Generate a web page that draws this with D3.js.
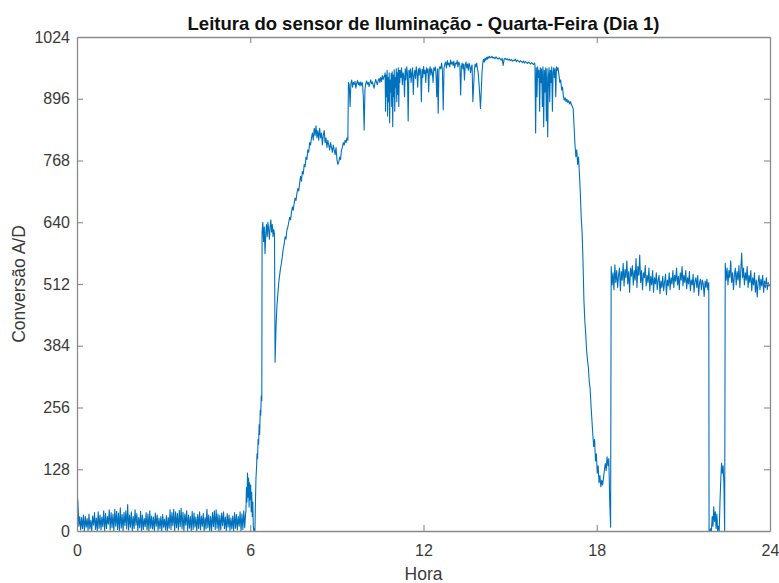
<!DOCTYPE html>
<html>
<head>
<meta charset="utf-8">
<script src="https://cdn.jsdelivr.net/npm/d3@7"></script>
<style>
  html, body { margin: 0; padding: 0; background: #fff; }
  svg { display: block; }
  text { font-family: "Liberation Sans", Arial, Helvetica, sans-serif; }
</style>
</head>
<body>
<svg id="chart" width="779" height="583"></svg>
<script>
// ---------------- DATA ----------------
const titleText = "Leitura do sensor de Iluminação - Quarta-Feira (Dia 1)";
const xLabelText = "Hora";
const yLabelText = "Conversão A/D";
const xTicks = [0, 6, 12, 18, 24];
const yTicks = [0, 128, 256, 384, 512, 640, 768, 896, 1024];

// Readings, grouped in time spans [startHour, endHour] (samples evenly spaced inside each span)
const nightVals = [80, 60, 10, 30, 2, 28, 5, 33, 0, 30, 8, 26, 1, 35, 4, 22, 0, 31, 12, 38, 3, 27, 0, 40, 6, 33, 2, 29, 9, 42, 0, 36, 5, 30, 14, 44, 2, 38, 7, 35, 0, 45, 10, 41, 3, 37, 1, 48, 6, 34, 0, 39, 11, 42, 4, 55, 2, 33, 8, 40, 0, 30, 5, 44, 12, 36, 1, 28, 7, 41, 0, 33, 3, 26, 9, 38, 2, 35, 0, 42, 6, 31, 4, 29, 0, 37, 10, 33, 1, 27, 5, 30, 0, 34, 8, 25, 2, 32, 0, 28, 6, 44, 3, 38, 11, 45, 0, 40, 7, 36, 2, 43, 9, 47, 4, 39, 0, 35, 12, 42, 1, 33, 6, 30, 0, 41, 3, 37, 8, 29, 0, 34, 5, 40, 2, 31, 10, 36, 0, 28, 4, 45, 7, 33, 1, 30, 0, 38, 9, 42, 3, 44, 6, 35, 0, 32, 2, 37, 11, 40, 5, 29, 0, 36, 8, 33, 1, 27, 4, 31, 0, 38, 6, 34, 2, 30, 10, 40, 0, 35, 3, 42, 7, 37];
const dawnVals = [40, 90, 60, 120, 70, 110, 50, 100, 65, 95, 40, 80, 30, 60, 10, 0, 5, 0, 60, 110, 130, 160, 150, 190, 180, 220, 200, 250, 240, 280, 270];
const morningVals = [620, 640, 600, 630, 575, 615, 635, 610, 640, 625, 605, 630, 645, 620, 635, 610, 625, 615];
const riseVals = [350, 420, 465, 490, 514, 530, 545, 555, 570, 585, 595, 610, 605, 624, 630, 640, 650, 645, 660, 672, 665, 680, 690, 685, 700, 710, 705, 720, 735, 725, 745, 740, 760, 755, 775, 770, 790, 785, 805, 800, 815, 825, 810, 835, 820, 840, 815, 830, 810, 835, 815, 825, 800, 820, 830, 805, 815, 795, 810, 800, 790, 805, 795, 785, 800, 790, 780, 795, 770, 760, 765, 775, 770, 790, 795, 805, 800, 810, 805, 815, 810];
const day1Vals = [930, 925, 880, 928, 935, 920, 930, 926, 932, 918, 928, 934, 925, 930, 922, 931, 924, 929, 900, 831, 915, 928, 933, 926, 930, 921, 929, 935, 927, 931, 924, 918, 929, 936, 930, 925, 934, 938, 930, 940, 932, 944, 936, 942, 945];
const day2Vals = [950, 870, 945, 900, 955, 860, 940, 890, 950, 846, 935, 910, 948, 880, 952, 838, 945, 900, 956, 870, 940, 920, 958, 890, 950, 905, 960, 880, 955, 930];
const day3Vals = [955, 940, 960, 925, 950, 945, 900, 958, 935, 962, 948, 850, 955, 940, 958, 930, 950, 960, 905, 945, 955, 938, 962, 950, 920, 958, 945, 960, 952, 890, 957, 940, 963, 948, 955, 930, 960, 950, 958, 910, 955, 962, 945, 958, 950, 930, 960, 955, 962, 948, 900, 958, 866, 955, 962];
const day4Vals = [962, 958, 970, 955, 873, 960, 968, 972, 960, 975, 966, 970, 962, 976, 968, 972, 965, 974, 960, 970, 968, 975, 962, 972, 968];
const day5Vals = [965, 904, 962, 970, 958, 968, 935, 966, 972, 960, 968, 955, 970, 964, 950, 962, 966, 890, 920, 955, 968, 962, 970, 958, 950, 930, 905, 876, 910, 950, 970, 978, 972, 980, 976, 982, 978, 983, 980, 984];
const day6Vals = [983, 981, 984, 980, 982, 979, 983, 980, 978, 981, 979, 976, 980, 965, 978, 980, 977, 979, 976, 978, 975, 977, 974, 976, 975, 978, 973, 976, 974, 972, 975, 973, 971, 974, 970, 973, 971, 969, 972, 970, 968, 971, 969, 967, 970];
const day7Vals = [965, 825, 960, 900, 962, 940, 955, 870, 960, 930, 958, 880, 962, 838, 955, 910, 960, 850, 958, 817, 940, 960, 890, 955, 930, 962, 870, 950, 960, 940, 958, 900, 962, 955, 960];
const sunsetVals = [960, 945, 930, 935, 914, 920, 900, 893, 898, 890, 895, 888, 892, 885, 890, 884, 880, 875, 838, 800, 776, 790, 760, 775, 740, 700, 650, 620, 560, 480, 437, 410, 375, 355, 340, 310, 295, 260, 230, 200, 175, 190, 145, 160, 120, 135, 100, 115, 92, 105, 95, 110, 126, 140, 125, 154, 135, 150, 60, 8];
const eveningVals = [548, 510, 535, 500, 552, 515, 540, 505, 530, 545, 498, 538, 520, 555, 508, 542, 525, 560, 512, 538, 495, 545, 528, 550, 510, 540, 520, 565, 505, 548, 530, 572, 515, 540, 500, 535, 525, 550, 508, 530, 515, 545, 498, 528, 510, 540, 495, 525, 512, 535, 500, 520, 530, 492, 518, 505, 528, 498, 515, 532, 490, 520, 508, 535, 500, 525, 512, 540, 505, 530, 518, 545, 510, 528, 500, 535, 520, 548, 508, 530, 515, 540, 502, 525, 512, 538, 498, 520, 510, 532, 495, 518, 525, 505, 530, 488, 515, 522, 500, 520, 512, 486, 518, 505, 522, 500, 515];
const gapVals = [0, 0, 5, 0, 30, 10, 50, 20, 40, 5, 35, 0, 10, 0, 60, 106, 141, 120, 135, 100, 0];
const lateVals = [555, 520, 545, 510, 540, 525, 560, 515, 535, 500, 530, 545, 510, 538, 520, 550, 505, 540, 576, 525, 545, 510, 535, 520, 548, 505, 530, 515, 540, 498, 525, 510, 535, 495, 520, 485, 515, 530, 500, 522, 508, 530, 495, 518, 505, 525, 500, 515, 508, 512];

const segmentSpans = [
  [0.00, 5.84], [5.85, 6.40], [6.41, 6.84], [6.86, 9.38],
  [9.40, 10.66], [10.67, 11.18], [11.19, 12.56], [12.57, 13.25],
  [13.26, 14.29], [14.30, 15.85], [15.86, 16.65], [16.66, 18.48],
  [18.50, 21.88], [21.89, 22.43], [22.45, 24.00]
];
const segmentValues = [nightVals, dawnVals, morningVals, riseVals, day1Vals, day2Vals, day3Vals, day4Vals, day5Vals, day6Vals, day7Vals, sunsetVals, eveningVals, gapVals, lateVals];

(function draw() {
  // ---------------- BUILD SERIES ----------------
  const series = [];
  segmentValues.forEach((vals, s) => {
    const [t0, t1] = segmentSpans[s];
    const n = vals.length;
    vals.forEach((v, i) => {
      series.push({ h: n > 1 ? t0 + (t1 - t0) * i / (n - 1) : t0, v });
    });
  });

  // ---------------- LAYOUT ----------------
  const W = 779, H = 583;
  const mL = 77, mR = 770, mT = 37, mB = 531;
  const axisColor = "#8a8a8a";
  const textColor = "#3a3a3a";
  const lineColor = "#0072BD";
  const tickLen = 6;

  const svg = d3.select("#chart");
  svg.append("rect").attr("width", W).attr("height", H).attr("fill", "#fff");

  const x = d3.scaleLinear().domain([0, 24]).range([mL, mR]);
  const y = d3.scaleLinear().domain([0, 1024]).range([mB, mT]);

  svg.append("clipPath").attr("id", "clip")
    .append("rect").attr("x", mL).attr("y", mT - 1).attr("width", mR - mL).attr("height", mB - mT + 1);

  const line = d3.line().x(d => x(d.h)).y(d => y(d.v));
  svg.append("path")
    .datum(series)
    .attr("clip-path", "url(#clip)")
    .attr("fill", "none")
    .attr("stroke", lineColor)
    .attr("stroke-width", 1.1)
    .attr("stroke-linejoin", "round")
    .attr("d", line);

  const fmt = d3.format("d");
  const axB = d3.axisBottom(x).tickValues(xTicks).tickFormat(fmt).tickSizeInner(-tickLen).tickSizeOuter(0).tickPadding(14);
  const axT = d3.axisTop(x).tickValues(xTicks).tickSizeInner(-tickLen).tickSizeOuter(0).tickFormat("");
  const axL = d3.axisLeft(y).tickValues(yTicks).tickFormat(fmt).tickSizeInner(-tickLen).tickSizeOuter(0).tickPadding(7);
  const axR = d3.axisRight(y).tickValues(yTicks).tickSizeInner(-tickLen).tickSizeOuter(0).tickFormat("");

  function style(g) {
    g.select(".domain").attr("stroke", axisColor).attr("stroke-width", 1.3);
    g.selectAll(".tick line").attr("stroke", axisColor).attr("stroke-width", 1.1);
    g.selectAll(".tick text").attr("fill", textColor).style("font-size", "16px")
      .style("font-family", '"Liberation Sans", Arial, sans-serif');
  }
  svg.append("g").attr("transform", `translate(0,${mB})`).call(axB).call(style);
  svg.append("g").attr("transform", `translate(0,${mT})`).call(axT).call(style);
  svg.append("g").attr("transform", `translate(${mL},0)`).call(axL).call(style);
  svg.append("g").attr("transform", `translate(${mR},0)`).call(axR).call(style);

  svg.selectAll(".tick line").filter(d => d === 0 || d === 24 || d === 1024).remove();

  svg.append("text")
    .attr("x", (mL + mR) / 2).attr("y", 29.5)
    .attr("text-anchor", "middle")
    .attr("fill", "#111")
    .style("font-size", "18.5px").style("font-weight", "bold")
    .text(titleText);

  svg.append("text")
    .attr("x", (mL + mR) / 2).attr("y", 580)
    .attr("text-anchor", "middle")
    .attr("fill", textColor)
    .style("font-size", "17.5px")
    .text(xLabelText);

  svg.append("text")
    .attr("transform", `translate(25,${(mT + mB) / 2}) rotate(-90)`)
    .attr("text-anchor", "middle")
    .attr("fill", textColor)
    .style("font-size", "17.5px")
    .text(yLabelText);
})();
</script>
</body>
</html>
